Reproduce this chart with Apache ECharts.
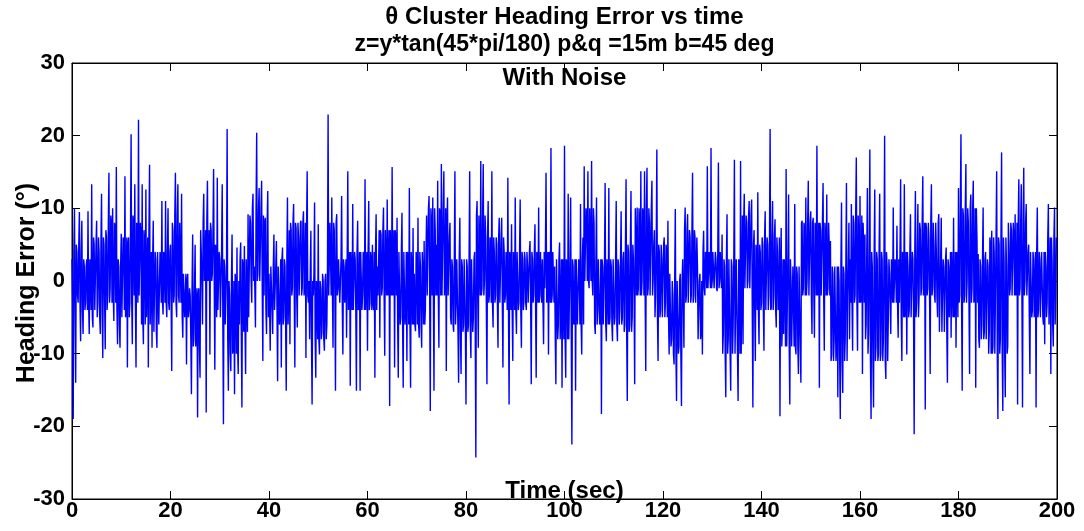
<!DOCTYPE html>
<html>
<head>
<meta charset="utf-8">
<script src="https://cdn.jsdelivr.net/npm/echarts@6/dist/echarts.min.js"></script>
<style>
html,body{margin:0;padding:0;background:#fff;}
#chart{width:1084px;height:531px;}
</style>
</head>
<body>
<div id="chart"></div>
<script>
// Heading error samples.
// Main samples every 0.25 s (t = 20k + 0.25 i), one array per 20-second stretch.
const heading_000_020 = [3,-19,10,-14,4,-3,9.5,-8.3, 8.3,-7.3,2,-3,3,9.6,-7.3,1, 13.3,-6.4,5,-4,8.3,-3,4,-7.3, 12,-10.6,5,-9.4,6,-2,14.9,-1, 8,10,-5.5,7,15.7,-8.7,2,-9.2, 6.5,-5,5,14.4,-4,-11.9,6,-3, 20.2,-8.7,8,13.3,-11.9,7,22.2,-2, 6,13.3,-8.7,5,12.6,-5,-11.9,16, -6,-9.2,8.3,-7,3,-9.2,4,-6, 2,11,-4.6,3,11,-5,10,-4];
const heading_020_040 = [5,-12.4,6.9,-2,14.9,-5,13.3,-3, 8,12,-7.8,1,-5,-11.5,1,-4, -2,-15.6,6.4,-8,5,-9,-18.8,-1, -13.3,4,-6,12,1,-18.1,13.8,2, -10.1,7,1,15.4,-12.2,4,14.2,-4, 3,-5,13.3,-19.7,2,-6,20.9,-15.1, -2,-12.4,6.4,-9,-15.6,0,4.6,-12.8, -6,5.3,-17.4,2,4.8,-12.8,3,9.2, -5,8,-3,12,2,-6.4,20.4,1, 12.8,0,13.8,-11,-2,8.7,-7.3,12.4];
const heading_040_060 = [1,-9.6,2,-7.3,6.4,-4,5.5,-13.8, 2,-4,-11.9,4.6,-5,2,-15.1,11.5, -2,-8.7,7,-1,10.6,-11.9,7.3,-6.4, 6,-2,8.3,-1,9.6,0,-10.6,15.1, -3,-8,6.9,-17,-2,10.8,-13.3,-1, 7.8,-10.1,-1,-7,0,-9.6,1,-6, 22.9,-2,8,11.5,-9.2,7,-15.1,9.2, -1,3,-3,11.7,-10.1,2,-3,-7.8, 15.1,-4,-14.4,4,10.6,-4,3,-15.1, 8.3,-3,-15.1,4,-2,3,14,-4];
const heading_060_080 = [-9.6,11,-3,3,5,-4,-13.3,9.2, 2,-2,-7.8,6.4,-1,10.1,-10.3,7, 11.2,-2,-17.2,7,15.7,-1,-11.9,6, 8.7,-13.3,4,-5,9.4,-14.7,4,-4, -11,3,12.8,-14.7,2,7.3,1,-6.9, 3,8.7,-7.8,2,-9.2,1,5.5,-4, 9,-2,11.7,-17.9,8,11.5,-15.1,7, 5,13.8,-9.2,9,16.1,-2,15.1,0, -12.4,11.5,-2,8,-6,2,-7,15.1, -3,3,-14,8.7,-12.8,2,-6,3];
const heading_080_100 = [-17,2,-6,15.1,-10.6,3,-5,4, -24.3,11,-9.2,9,16.5,-1,16.1,0, 6,-14.2,11,-2,5,15.1,-6.4,4, -2,5,-9.2,8.7,-3,8.7,-11.9,4, -2,4,14.2,-17,3,7.8,-11,2, 11.5,-7.3,4,-3,11.2,-9.2,3,-3, 3,-4,2,-3,5.5,-14.2,3,-2, 7.8,-13.3,3,10.1,-2,4,3,-8.7, -1,14.9,-2,-10.1,3,18.3,-2,4, 2,-14.2,3,-6,5.3,-4,-14.7,3];
const heading_100_120 = [18.6,-13.3,2,12,-8,11.5,-22.5,2, -5,-15.1,3,-6,2,10.6,-10.1,6, 15.8,0,9,15.1,-1,10,16.5,-2, 8,-7.3,11.5,-4,3,-5,-18.3,2, -2,13.5,-8.3,3,12.8,-5,2,-8.3, 3,-5,11,-8.3,2,-4,9.6,-5, 4,-6,14,-16.5,4,-6,12.4,-5, 3,-14.2,5,10.1,-1,8,15.1,0, 9,15.1,-12.4,15.6,-1,8,-2,13.8, 0,7,-2,18.1,-11,4,-4,3];
const heading_120_140 = [-5,6,-3,4,8.3,-10.1,1,-8, -2,-11.5,9.9,-16.5,0,-9,1,-17.2, 3,-9.2,10.1,-2,9.2,-3,6,-2, 14.9,-2,6,-3,2,-8,1,-7, -10.1,6.9,-2,3,15.8,-1,4,18.3, 0,4,-1,3,-1.4,16.3,0,4, 6.4,-7.3,2,-16,9.2,-8,3,-15.1, 2,-6,16.7,-10.1,3,-16.5,2,16.5, -2,-8.7,12,-1,8,0,11,-1, 11.2,-17.4,7,-11,3,12.2,-8.7,4];
const heading_140_160 = [-3,5,-9.6,9.6,-4,5,-2,20.9, -3.7,11,-2,8.5,-6.4,4,-3,-18.6, 7.3,-6,-7.3,1,15.4,-9,11.9,-17, 0,-9,2,10.6,-10.1,1,-12.8,2, -14,8.3,-1,7,11.5,0,13.8,-2, 9.6,-7.3,8.7,-7.8,6,18.6,-1,-14.7, 7,-2,13.5,-9.6,6,11.9,-1,5, 5.5,-10.1,1,-8,2,-9,-16,0, -19,10.8,-15.4,1,-8,13.5,-2,8, 3,10.6,-9.6,8,-2,17,-9.6,6];
const heading_160_180 = [11.7,-2,-12.8,5,6.4,-6,12.8,-7, 18.1,-19,2,-17.4,12.6,-9,3,-10, 12,-10,3,-8,20,-13.5,2,-5, 1,-7.3,3,10.1,-3,2,7.6,-7.8, -3,14,-11,3,13.3,-4,-10.1,2, -4,9.2,-5,3,-21.1,12.4,-3,10.6, -2,7,-1,14.4,0,-17.7,7.3,-1, 6,-12.8,13.3,-1,5,-3,4,-5, 9.2,-7,8.7,-7,2,-7,4.6,-14, 2,-5,-7.8,4,8.7,-4,-9.2,3];
const heading_180_200 = [12.8,-2,20.2,-15.1,9,-2,16.1,0, 8,-12.8,11.9,-1,13.8,-2,-14.7,6, 3.7,-9.2,2,-6,10.1,-7,4,-8, 2,-7,5,6.9,-9,4,-10,15.1, -19,5,-8,17.7,-17.9,3,-16,2, -9,5,-1,7,-2,6,9.2,-1, -17,14,-1,13.3,-17.4,15.6,0,10.6, -2,5,-12.8,4,-4,3,-5,-17.4, 10.1,-4,3,-5,4,-6,-8.7,2, -3,10.6,-6,-12.8,3,-9,10.1,-2];
const heading_at_200 = 6;

// In-between samples (t = 20k + 0.25 i + 0.125): the dense core band of the trace.
const core_000_020 = [-3,4,-3,5,-2,5,-3,4, -4,3,-4,2,-4,-3,3,-4, -5,6,-4,5,-5,6,-5,5, -4,6,-3,7,-4,8,-3,9, -3,-2,8,-3,-4,3,-6,2, -5,6,-4,-5,6,5,-5,6, -3,9,-2,-3,8,-3,-2,8, -6,-5,7,-6,-5,6,7,-6, 4,3,-7,4,-7,4,-6,4, -3,-3,4,-3,-3,4,-3,4];
const core_020_040 = [-3,8,-3,9,-3,9,-2,8, -3,-5,1,-5,1,0,-5,-1, -8,-1,-9,-1,-9,-1,-2,-9, 7,0,8,0,7,8,0,7, 8,0,7,0,5,-5,-4,4, -5,4,-5,3,-6,2,-8,0, -10,0,-10,0,1,-10,-9,0, 3,-7,3,-7,-6,3,-7,-5, 9,0,10,0,-1,10,0,10, 0,10,-1,9,8,-4,8,-5];
const core_040_060 = [-4,2,-4,2,-4,2,-4,2, -6,3,3,-6,3,-6,3,-6, 7,8,-2,8,-2,8,-2,8, -2,8,-2,8,-2,8,7,-2, 0,1,-8,0,1,-8,0,-8, -8,0,-8,1,-8,0,-8,2, -2,8,-2,-1,8,-2,8,-2, 3,-3,3,-3,3,-3,3,3, -4,4,4,-4,-4,4,-4,4, -4,4,4,-4,4,-4,-4,4];
const core_060_080 = [4,-4,4,-4,-3,4,4,-4, -2,7,7,-2,7,-2,7,-2, -2,7,7,-2,-2,7,7,-2, -6,4,-6,4,-6,4,-6,4, 4,-6,-6,4,-6,-6,-6,4, -6,-6,4,-6,4,-6,-6,4, -2,10,-2,10,-2,-2,10,-2, -2,-2,10,-2,-2,10,-2,10, 8,-2,6,-5,3,-6,3,-6, 3,-7,3,-7,3,-7,3,-7];
const core_080_100 = [3,-7,3,-7,3,-7,3,-7, 9,-2,9,-2,-2,9,-2,9, -3,6,-3,6,-3,-3,6,-3, 6,-3,6,-3,6,-3,6,-3, 4,-4,-4,4,-4,-4,4,-4, -4,4,-4,4,-4,4,-4,4, -3,4,-3,4,-3,4,-3,4, -3,4,-3,-3,4,-3,-3,4, 4,-3,4,4,-3,-3,4,-3, -8,3,-8,3,-8,3,3,-8];
const core_100_120 = [-8,3,-8,-8,3,-8,3,-6, 3,3,-6,3,-6,-6,3,-6, 0,10,0,0,10,0,0,10, -6,3,-6,3,-6,3,3,-6, 3,-6,3,-6,-6,3,-6,3, -6,3,-6,3,-6,3,-6,3, -7,5,-7,5,-7,5,-7,5, -2,10,-2,-2,10,-2,-2,10, -2,-2,10,-2,10,-2,10,-2, 5,-5,5,-5,5,-5,5,-5];
const core_120_140 = [5,-5,5,-5,-5,1,-9,0, -10,0,-10,0,-10,0,-10,0, -3,7,-3,7,-3,7,-3,7, -3,7,-3,6,-8,0,-8,0, 4,-1,4,-1,-1,4,-1,-1, 4,-1,4,-1,4,-1,4,-1, -10,3,-10,3,-10,3,-10,3, -10,3,-10,3,-10,3,-10,-10, 9,8,-1,9,-1,9,-1,9, -4,5,-4,5,-4,-4,5,-4];
const core_140_160 = [6,-4,6,-4,6,-4,6,-4, 6,-4,6,-4,6,-4,6,2, -9,3,3,-9,-9,3,-9,3, -9,2,-9,-9,2,-9,2,-9, 8,-2,8,-2,-2,8,-2,8, -2,8,-2,8,-2,-2,8,8, -2,8,-2,8,-2,-2,8,-2, -11,2,-11,2,-11,2,2,-11, 2,-11,2,-11,2,-11,2,-8, -3,-3,9,-3,9,-3,9,-3];
const core_160_180 = [-3,9,8,-3,-8,4,-10,4, -11,4,-11,4,-11,4,-11,4, -11,4,-11,4,-11,4,-11,3, -3,3,-3,-3,3,-3,-3,3, 4,-5,4,-5,-5,4,4,-5, 4,-5,4,-5,4,-5,4,-5, 8,-2,8,-2,8,8,-2,8, -2,8,-2,8,-2,8,-2,8, -7,3,-7,3,-7,3,-7,3, -5,4,4,-5,-5,4,4,-5];
const core_180_200 = [-3,10,-3,10,-3,10,-3,10, -3,10,-3,10,-3,10,10,-3, -8,3,-8,3,-8,3,-8,3, -10,6,-10,-10,6,-10,6,-10, 6,-10,6,-10,6,-10,6,-10, 8,-2,8,-2,8,-2,-2,8, 8,-2,8,-2,8,-2,8,-2, 4,-5,4,-5,4,-5,4,4, -5,4,-5,4,-5,4,4,-5, 6,-6,6,6,-6,6,-6,6];

const mainSegments = [heading_000_020, heading_020_040, heading_040_060, heading_060_080, heading_080_100,
                      heading_100_120, heading_120_140, heading_140_160, heading_160_180, heading_180_200];
const coreSegments = [core_000_020, core_020_040, core_040_060, core_060_080, core_080_100,
                      core_100_120, core_120_140, core_140_160, core_160_180, core_180_200];
const segmentSpan = 20;   // seconds per array
const sampleStep = 0.25;  // seconds between main samples

const xTicks = [0, 20, 40, 60, 80, 100, 120, 140, 160, 180, 200];
const yTicks = [-30, -20, -10, 0, 10, 20, 30];

const titleLines = ['\u03b8 Cluster Heading Error vs time', 'z=y*tan(45*pi/180) p&q =15m b=45 deg', 'With Noise'];
const xName = 'Time (sec)';
const yName = 'Heading Error (\u00b0)';

const points = [];
mainSegments.forEach(function (seg, k) {
  seg.forEach(function (v, i) {
    const t = k * segmentSpan + i * sampleStep;
    points.push([t, v]);
    points.push([t + sampleStep / 2, coreSegments[k][i]]);
  });
});
points.push([200, heading_at_200]);

const FONT = '"Liberation Sans", Arial, Helvetica, sans-serif';
const chart = echarts.init(document.getElementById('chart'), null, { renderer: 'canvas' });

const G = { left: 72, right: 27, top: 63, bottom: 32 };
const plotCenterX = G.left + (1084 - G.left - G.right) / 2;

function axisCommon(extra) {
  return Object.assign({
    type: 'value',
    axisLine: { show: true, onZero: false, lineStyle: { color: '#000', width: 1 } },
    axisTick: { show: true, inside: true, length: 8, lineStyle: { color: '#000', width: 1 } },
    splitLine: { show: false },
    axisLabel: { show: false }
  }, extra);
}

chart.setOption({
  backgroundColor: '#ffffff',
  animation: false,
  grid: { left: G.left, right: G.right, top: G.top, bottom: G.bottom, show: true, borderColor: '#000', borderWidth: 1, backgroundColor: '#fff' },
  xAxis: [
    axisCommon({ position: 'bottom', min: xTicks[0], max: xTicks[xTicks.length - 1], interval: 20,
      axisLabel: { show: true, color: '#000', fontFamily: FONT, fontWeight: 'bold', fontSize: 22, margin: 1 } }),
    axisCommon({ position: 'top', min: xTicks[0], max: xTicks[xTicks.length - 1], interval: 20 })
  ],
  yAxis: [
    axisCommon({ position: 'left', min: yTicks[0], max: yTicks[yTicks.length - 1], interval: 10,
      axisLabel: { show: true, color: '#000', fontFamily: FONT, fontWeight: 'bold', fontSize: 22, margin: 7 } }),
    axisCommon({ position: 'right', min: yTicks[0], max: yTicks[yTicks.length - 1], interval: 10 })
  ],
  series: [{
    type: 'line',
    data: points,
    xAxisIndex: 0,
    yAxisIndex: 0,
    showSymbol: false,
    symbol: 'none',
    sampling: null,
    lineStyle: { color: '#0000ff', width: 1.4 },
    z: 2
  }],
  graphic: [
    { type: 'text', z: 100, style: { x: plotCenterX, y: 17, text: titleLines[0], textAlign: 'center', textVerticalAlign: 'middle', fill: '#000', font: 'bold 24px ' + FONT } },
    { type: 'text', z: 100, style: { x: plotCenterX, y: 45, text: titleLines[1], textAlign: 'center', textVerticalAlign: 'middle', fill: '#000', font: 'bold 23px ' + FONT } },
    { type: 'text', z: 100, style: { x: plotCenterX, y: 78, text: titleLines[2], textAlign: 'center', textVerticalAlign: 'middle', fill: '#000', font: 'bold 24px ' + FONT } },
    { type: 'text', z: 100, style: { x: plotCenterX, y: 491, text: xName, textAlign: 'center', textVerticalAlign: 'middle', fill: '#000', font: 'bold 24px ' + FONT } },
    { type: 'text', z: 100, x: 27, y: 283, rotation: Math.PI / 2, style: { x: 0, y: 0, text: yName, textAlign: 'center', textVerticalAlign: 'middle', fill: '#000', font: 'bold 25px ' + FONT } }
  ]
});
</script>
</body>
</html>
